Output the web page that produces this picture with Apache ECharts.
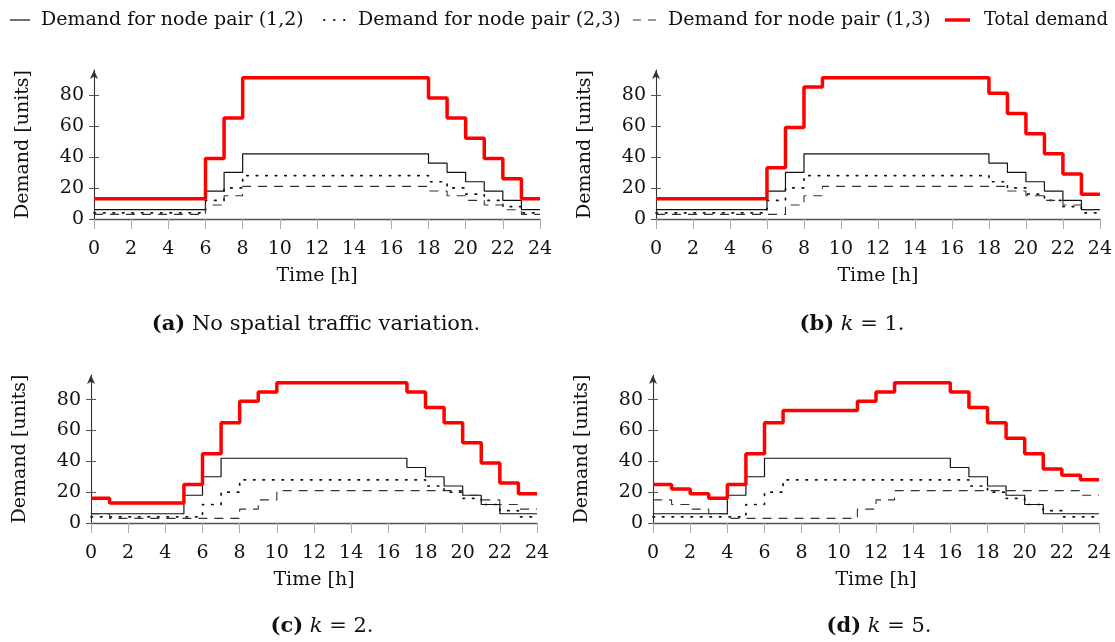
<!DOCTYPE html>
<html>
<head>
<meta charset="utf-8">
<script src="https://cdn.jsdelivr.net/npm/echarts@6/dist/echarts.min.js"></script>
<style>
  html, body { margin: 0; padding: 0; background: #fff; }
  #chart { width: 1115px; height: 642px; }
</style>
</head>
<body>
<div id="chart"></div>
<script>
// hourly demand, value at index h holds from h to h+1
const pair12A = [6, 6, 6, 6, 6, 6, 18, 30, 42, 42, 42, 42, 42, 42, 42, 42, 42, 42, 36, 30, 24, 18, 12, 6];
const pair23A = [4, 4, 4, 4, 4, 4, 12, 20, 28, 28, 28, 28, 28, 28, 28, 28, 28, 28, 24, 20, 16, 12, 8, 4];
const pair13A = [3, 3, 3, 3, 3, 3, 9, 15, 21, 21, 21, 21, 21, 21, 21, 21, 21, 21, 18, 15, 12, 9, 6, 3];
const totalA = [13, 13, 13, 13, 13, 13, 39, 65, 91, 91, 91, 91, 91, 91, 91, 91, 91, 91, 78, 65, 52, 39, 26, 13];

const pair12B = [6, 6, 6, 6, 6, 6, 18, 30, 42, 42, 42, 42, 42, 42, 42, 42, 42, 42, 36, 30, 24, 18, 12, 6];
const pair23B = [4, 4, 4, 4, 4, 4, 12, 20, 28, 28, 28, 28, 28, 28, 28, 28, 28, 28, 24, 20, 16, 12, 8, 4];
const pair13B = [3, 3, 3, 3, 3, 3, 3, 9, 15, 21, 21, 21, 21, 21, 21, 21, 21, 21, 21, 18, 15, 12, 9, 6];
const totalB = [13, 13, 13, 13, 13, 13, 33, 59, 85, 91, 91, 91, 91, 91, 91, 91, 91, 91, 81, 68, 55, 42, 29, 16];

const pair12C = [6, 6, 6, 6, 6, 18, 30, 42, 42, 42, 42, 42, 42, 42, 42, 42, 42, 36, 30, 24, 18, 12, 6, 6];
const pair23C = [4, 4, 4, 4, 4, 4, 12, 20, 28, 28, 28, 28, 28, 28, 28, 28, 28, 28, 24, 20, 16, 12, 8, 4];
const pair13C = [6, 3, 3, 3, 3, 3, 3, 3, 9, 15, 21, 21, 21, 21, 21, 21, 21, 21, 21, 21, 18, 15, 12, 9];
const totalC = [16, 13, 13, 13, 13, 25, 45, 65, 79, 85, 91, 91, 91, 91, 91, 91, 91, 85, 75, 65, 52, 39, 26, 19];

const pair12D = [6, 6, 6, 6, 18, 30, 42, 42, 42, 42, 42, 42, 42, 42, 42, 42, 36, 30, 24, 18, 12, 6, 6, 6];
const pair23D = [4, 4, 4, 4, 4, 12, 20, 28, 28, 28, 28, 28, 28, 28, 28, 28, 28, 24, 20, 16, 12, 8, 4, 4];
const pair13D = [15, 12, 9, 6, 3, 3, 3, 3, 3, 3, 3, 9, 15, 21, 21, 21, 21, 21, 21, 21, 21, 21, 21, 18];
const totalD = [25, 22, 19, 16, 25, 45, 65, 73, 73, 73, 73, 79, 85, 91, 91, 91, 85, 75, 65, 55, 45, 35, 31, 28];

const yTicks = [0, 20, 40, 60, 80];
const seriesNames = [
  'Demand for node pair (1,2)',
  'Demand for node pair (2,3)',
  'Demand for node pair (1,3)',
  'Total demand'
];
const panels = [
  [pair12A, pair23A, pair13A, totalA],
  [pair12B, pair23B, pair13B, totalB],
  [pair12C, pair23C, pair13C, totalC],
  [pair12D, pair23D, pair13D, totalD]
];

const font = 'DejaVu Serif';
const grids = [
  { left: 94, top: 70, width: 446, height: 149 },
  { left: 656, top: 70, width: 447, height: 149 },
  { left: 91, top: 375, width: 446, height: 148 },
  { left: 653, top: 375, width: 446, height: 148 }
];

const lineStyles = [
  { color: '#111', width: 1.2, type: 'solid' },
  { color: '#111', width: 1.7, type: [1.5, 8], cap: 'round' },
  { color: '#333', width: 1.1, type: [9, 7] },
  { color: '#ff0000', width: 3.5, type: 'solid' }
];

function toSteps(vals) {
  const pts = vals.map((v, i) => [i, v]);
  pts.push([24, vals[vals.length - 1]]);
  return pts;
}

const xAxes = [], yAxes = [], series = [];
grids.forEach((g, gi) => {
  xAxes.push({
    type: 'value', gridIndex: gi, min: 0, max: 24, interval: 2,
    name: 'Time [h]', nameLocation: 'middle', nameGap: 48,
    nameTextStyle: { fontFamily: font, fontSize: 19, color: '#111' },
    axisLine: { onZero: false, lineStyle: { color: '#555', width: 1.3 } },
    axisTick: { length: 10, lineStyle: { color: '#aaa' } },
    axisLabel: { margin: 21, fontFamily: font, fontSize: 19, color: '#111' },
    splitLine: { show: false }
  });
  yAxes.push({
    type: 'value', gridIndex: gi, min: 0, max: 96,
    name: 'Demand [units]', nameLocation: 'middle', nameGap: 61,
    nameTextStyle: { fontFamily: font, fontSize: 19, color: '#111' },
    axisLine: { show: true, symbol: ['none', 'arrow'], symbolSize: [6, 9], lineStyle: { color: '#333', width: 1.1 } },
    axisTick: { show: true, length: 5, customValues: yTicks, lineStyle: { color: '#555' } },
    axisLabel: { margin: 10, fontFamily: font, fontSize: 19, color: '#111', customValues: yTicks },
    splitLine: { show: false }
  });
  // inner half of the crossing y ticks
  yAxes.push({
    type: 'value', gridIndex: gi, min: 0, max: 96, position: 'left',
    axisLine: { show: false },
    axisTick: { show: true, inside: true, length: 5, customValues: yTicks, lineStyle: { color: '#555' } },
    axisLabel: { show: false },
    splitLine: { show: false }
  });
  panels[gi].forEach((vals, si) => {
    series.push({
      name: seriesNames[si],
      type: 'line',
      xAxisIndex: gi,
      yAxisIndex: gi * 2,
      step: 'end',
      symbol: 'none',
      silent: true,
      z: si === 3 ? 5 : 3,
      lineStyle: lineStyles[si],
      itemStyle: { color: lineStyles[si].color },
      data: toSteps(vals)
    });
  });
});

// legend texts come from the legend component, the line samples are drawn by hand
const legendTextLeft = [40, 357, 667, 983];
const legendFontSize = [19, 19, 19, 18];
const legendIcons = [
  { x1: 10, x2: 30, style: { stroke: '#111', lineWidth: 1.2 } },
  { x1: 324, x2: 346, style: { stroke: '#111', lineWidth: 1.8, lineDash: [0.5, 9.5], lineCap: 'round' } },
  { x1: 633, x2: 656, style: { stroke: '#333', lineWidth: 1.1, lineDash: [8, 7] } },
  { x1: 945, x2: 970, style: { stroke: '#ff0000', lineWidth: 3.5 } }
];
const legends = legendTextLeft.map((x, i) => ({
  top: 11, left: x - 15, padding: 0, data: [seriesNames[i]],
  itemWidth: 10, itemHeight: 14, selectedMode: false,
  itemStyle: { opacity: 0 }, lineStyle: { opacity: 0 },
  textStyle: { fontFamily: font, fontSize: legendFontSize[i], color: '#111' }
}));

const rich = {
  b: { fontFamily: font, fontSize: 21, fontWeight: 'bold', fill: '#111' },
  i: { fontFamily: font, fontSize: 21, fontStyle: 'italic', fill: '#111' },
  n: { fontFamily: font, fontSize: 21, fill: '#111' }
};
const captions = [
  { x: 316, y: 325, text: '{b|(a)}{n| No spatial traffic variation.}' },
  { x: 852, y: 325, text: '{b|(b)}{n| }{i|k}{n| = 1.}' },
  { x: 322, y: 627, text: '{b|(c)}{n| }{i|k}{n| = 2.}' },
  { x: 879, y: 627, text: '{b|(d)}{n| }{i|k}{n| = 5.}' }
];

const graphics = captions.map(c => ({
  type: 'text', x: c.x, y: c.y,
  style: { text: c.text, rich: rich, align: 'center', verticalAlign: 'middle' }
})).concat(legendIcons.map(ic => ({
  type: 'line', silent: true,
  shape: { x1: ic.x1, y1: 20, x2: ic.x2, y2: 20 },
  style: ic.style
})));

const chart = echarts.init(document.getElementById('chart'));
chart.setOption({
  animation: false,
  backgroundColor: '#fff',
  legend: legends,
  grid: grids,
  xAxis: xAxes,
  yAxis: yAxes,
  series: series,
  graphic: graphics
});
</script>
</body>
</html>
